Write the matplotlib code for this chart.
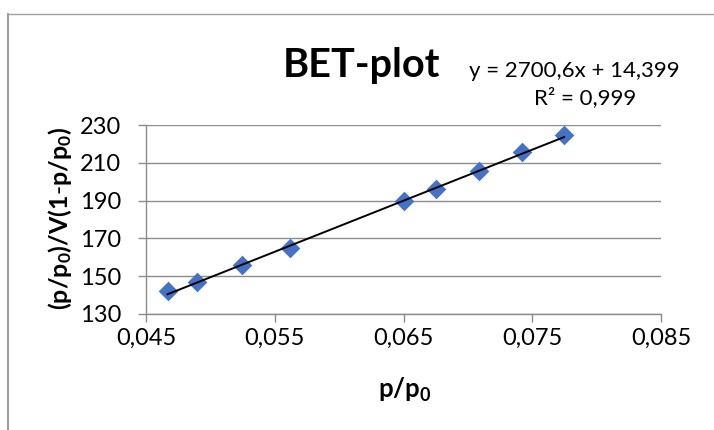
import matplotlib
matplotlib.use("Agg")
import matplotlib.pyplot as plt
from matplotlib.lines import Line2D
import numpy as np

plt.rcParams['font.family'] = ['Lato', 'DejaVu Sans']
plt.rcParams['mathtext.fontset'] = 'custom'
plt.rcParams['mathtext.rm'] = 'Lato'
plt.rcParams['mathtext.bf'] = 'Lato:bold'
plt.rcParams['mathtext.it'] = 'Lato:italic'

# Data
p_rel = [0.04667, 0.04894, 0.05247, 0.05617, 0.06506, 0.06756, 0.07089, 0.07422, 0.07747]
bet_y = [142.4, 146.8, 155.7, 165.0, 189.6, 196.2, 205.8, 215.5, 224.7]
slope = 2700.6
intercept = 14.399
x_ticks = [0.045, 0.055, 0.065, 0.075, 0.085]
x_tick_labels = ['0,045', '0,055', '0,065', '0,075', '0,085']
y_ticks = [130, 150, 170, 190, 210, 230]
y_tick_labels = ['130', '150', '170', '190', '210', '230']

W, H = 714, 430
fig = plt.figure(figsize=(W / 100, H / 100), dpi=100)
ax = fig.add_axes([146 / W, 1 - 314 / H, (661 - 146) / W, (314 - 125) / H])

grid_c = '#8c8c8c'
ax.scatter(p_rel, bet_y, marker='D', s=100, color='#4472C4', zorder=3, linewidths=0)
xs = np.array([p_rel[0], p_rel[-1]])
ax.plot(xs, slope * xs + intercept, color='black', lw=1.4, zorder=4)

ax.set_xlim(0.045, 0.085)
ax.set_ylim(130, 230)
ax.set_xticks(x_ticks)
ax.set_xticklabels(x_tick_labels)
ax.set_yticks(y_ticks)
ax.set_yticklabels(y_tick_labels)
ax.yaxis.grid(True, color=grid_c, lw=1.0)
ax.set_axisbelow(True)
for s in ['top', 'right']:
    ax.spines[s].set_visible(False)
for s in ['left', 'bottom']:
    ax.spines[s].set_color(grid_c)
    ax.spines[s].set_linewidth(1.0)
ax.tick_params(axis='x', direction='out', length=6, width=1, color=grid_c, labelsize=17, pad=4)
ax.tick_params(axis='y', direction='out', length=6, width=1, color=grid_c, labelsize=17, pad=12)

fig.text(362 / W, 1 - 66 / H, 'BET-plot', fontsize=28.5, fontweight='bold', ha='center', va='center')
fig.text(574 / W, 1 - 71 / H, 'y = 2700,6x + 14,399', fontsize=16, ha='center', va='center')
fig.text(585 / W, 1 - 98 / H, 'R² = 0,999', fontsize=16, ha='center', va='center')
fig.text(60 / W, 1 - 218 / H, r'$\mathbf{(p/p_0)/V(1\text{-}p/p_0)}$', fontsize=18, rotation=90,
         ha='center', va='center')
fig.text(405 / W, 1 - 390 / H, r'$\mathbf{p/p_0}$', fontsize=18.5, ha='center', va='center')

# chart border
fig.add_artist(Line2D([7.5 / W, 7.5 / W], [0, 1 - 13.5 / H], color='#a0a0a0', lw=1.5, transform=fig.transFigure))
fig.add_artist(Line2D([7.5 / W, 1], [1 - 13.5 / H, 1 - 13.5 / H], color='#a0a0a0', lw=1.0, transform=fig.transFigure))

fig.savefig('out.png', dpi=100)
